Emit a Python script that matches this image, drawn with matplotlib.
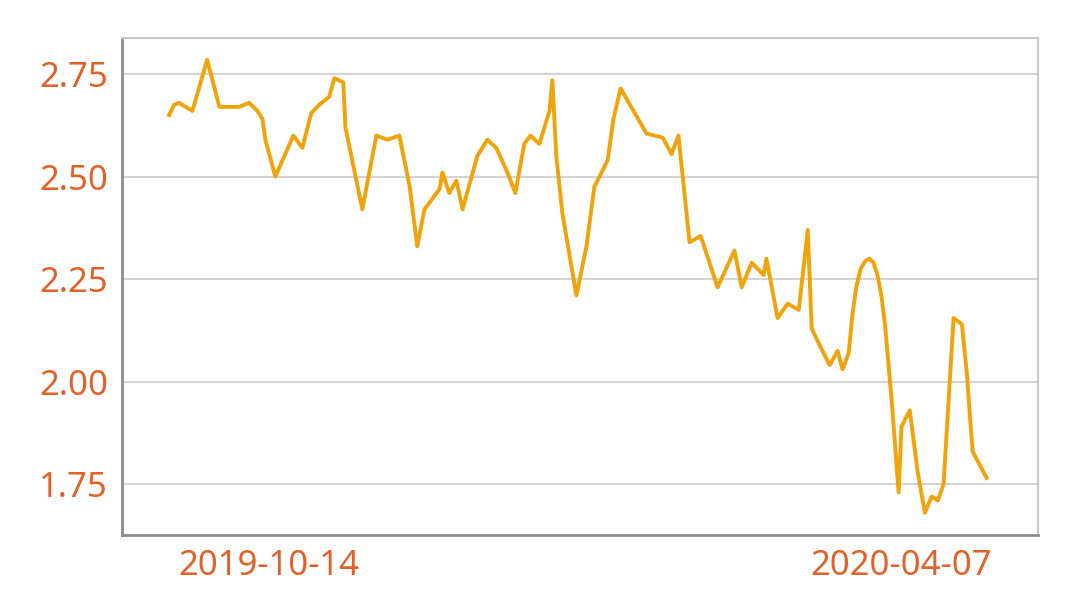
import matplotlib
matplotlib.use("Agg")
import matplotlib.pyplot as plt
import pandas as pd

BASE = pd.Timestamp("2019-10-14")
# days since 2019-10-14 and values
day_offsets = [-27.9, -26.5, -25.1, -21.4, -17.3, -13.9, -8.4, -5.6, -3.3, -1.9, -1.1, 1.7, 6.7, 9.2,
               11.7, 13.9, 16.7, 18.1, 20.6, 21.2, 25.9, 29.8, 32.9, 36.2, 39.0, 41.2, 43.2, 47.4, 48.2,
               50.1, 52.1, 53.8, 57.9, 60.7, 63.2, 66.3, 68.5, 71.0, 72.7, 75.2, 78.0, 78.8, 79.9, 81.6,
               85.5, 88.3, 90.5, 94.2, 95.8, 97.8, 105.0, 109.5, 112.0, 113.9, 117.0, 120.1, 124.8, 129.5,
               131.5, 134.3, 137.6, 138.4, 141.5, 144.3, 147.4, 149.9, 151.0, 152.6, 156.0, 158.2, 159.6,
               161.3, 162.3, 163.4, 164.6, 166.0, 167.1, 168.2, 169.3, 170.4, 171.4, 173.3, 175.2, 176.0,
               178.3, 180.5, 182.5, 184.4, 186.1, 187.7, 190.5, 192.8, 194.2, 195.0, 195.8, 199.7]
values = [2.65, 2.675, 2.68, 2.66, 2.785, 2.67, 2.67, 2.68, 2.66, 2.64, 2.59, 2.50, 2.60, 2.57,
          2.655, 2.675, 2.695, 2.74, 2.73, 2.62, 2.42, 2.60, 2.59, 2.60, 2.48, 2.33, 2.42, 2.47, 2.51,
          2.46, 2.49, 2.42, 2.55, 2.59, 2.57, 2.51, 2.46, 2.58, 2.60, 2.58, 2.66, 2.735, 2.55, 2.41,
          2.21, 2.33, 2.475, 2.54, 2.64, 2.715, 2.605, 2.595, 2.555, 2.60, 2.34, 2.355, 2.23, 2.32,
          2.23, 2.29, 2.26, 2.30, 2.155, 2.19, 2.175, 2.37, 2.13, 2.10, 2.04, 2.075, 2.03,
          2.07, 2.16, 2.23, 2.275, 2.295, 2.30, 2.29, 2.26, 2.21, 2.14, 1.95, 1.73, 1.89,
          1.93, 1.78, 1.68, 1.72, 1.71, 1.75, 2.155, 2.14, 2.02, 1.92, 1.83, 1.765]
x_ticks = ["2019-10-14", "2020-04-07"]
y_ticks = [1.75, 2.00, 2.25, 2.50, 2.75]

dates = BASE + pd.to_timedelta(day_offsets, unit="D")
plt.rcParams["font.family"] = ["Noto Sans", "DejaVu Sans"]

fig = plt.figure(figsize=(10.8, 6.15), dpi=100)
ax = fig.add_axes([122 / 1080, 80 / 615, 916 / 1080, 497 / 615])
ax.plot(dates, values, color="#f0a30a", lw=2.8, zorder=3, solid_joinstyle="round")
ax.set_xlim(pd.Timestamp("2019-09-03"), pd.Timestamp("2020-05-15"))
ax.set_ylim(1.626, 2.838)
ax.set_yticks(y_ticks)
ax.set_yticklabels([f"{v:.2f}" for v in y_ticks])
ax.set_xticks(pd.to_datetime(x_ticks))
ax.set_xticklabels(x_ticks)
ax.grid(axis="y", color="#cccccc", lw=1.2)
ax.tick_params(length=0, labelsize=25, labelcolor="#e0622a", pad=10)
for lab in ax.get_xticklabels() + ax.get_yticklabels():
    lab.set_fontweight("medium")
for s in ["top", "right"]:
    ax.spines[s].set_color("#c8c8c8")
    ax.spines[s].set_linewidth(1.5)
for s in ["left", "bottom"]:
    ax.spines[s].set_color("#8c8c8c")
    ax.spines[s].set_linewidth(2)
fig.savefig("out.png", dpi=100)
